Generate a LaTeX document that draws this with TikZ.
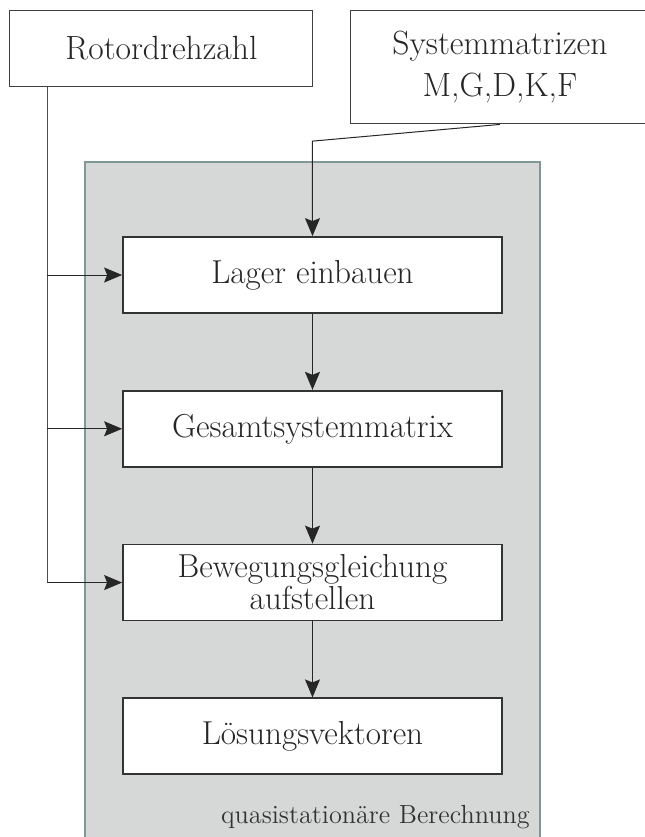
\documentclass[tikz,border=0pt]{standalone}
\usetikzlibrary{positioning,arrows.meta}

\definecolor{rahmengrau}{HTML}{7F9896}
\definecolor{flaechengrau}{HTML}{D6D8D7}

\tikzset{
  schritt/.style={draw=black!80, line width=0.9pt, fill=white, minimum width=6.66cm,
    minimum height=1.336cm, align=center, text=black!85, font=\fontsize{16.6}{15}\selectfont},
  eingabe/.style={draw=black!75, line width=0.5pt, fill=white, align=center,
    text=black!85, font=\fontsize{16.8}{21}\selectfont},
  pfeil/.style={draw=black!85, line width=0.5pt, -{Stealth[length=9pt,width=7.5pt,inset=1.5pt]}},
}

\begin{document}
\begin{tikzpicture}[node distance=1.335cm]
  \useasboundingbox (0,0) rectangle (11.335,-14.71);
  \clip (0,0) rectangle (11.335,-14.71);

  % Bereich der Berechnung
  \draw[rahmengrau, fill=flaechengrau, line width=1pt] (1.494,-2.847) rectangle (9.49,-15.2);
  \node[anchor=base east, font=\fontsize{13.1}{15}\selectfont, text=black!80, inner sep=0pt]
    (bereich) at (9.315,-14.464) {quasistation\"are Berechnung};

  % Eingaben
  \node[eingabe, minimum width=5.325cm, minimum height=1.336cm] (drehzahl) at (2.838,-0.844) {Rotordrehzahl};
  \node[eingabe, minimum width=5.27cm, minimum height=2.0cm] (matrizen) at (8.787,-1.178) {Systemmatrizen\\M,G,D,K,F};

  % Ablauf
  \node[schritt] (lager) at (5.492,-4.833) {Lager einbauen};
  \node[schritt, below=of lager] (gesamt) {Gesamtsystemmatrix};
  \node[schritt, below=of gesamt] (bewegung) {Bewegungsgleichung\\aufstellen};
  \node[schritt, below=of bewegung] (loesung) {L\"osungsvektoren};

  \draw[pfeil] (lager) -- (gesamt);
  \draw[pfeil] (gesamt) -- (bewegung);
  \draw[pfeil] (bewegung) -- (loesung);

  % Systemmatrizen nach unten
  \coordinate (knick) at (lager.north |- 0,-2.48);
  \draw[pfeil] (matrizen.south) -- (knick) -- (lager.north);

  % Drehzahl in jeden Schritt
  \coordinate (abzweig) at ([xshift=0.668cm]drehzahl.south west);
  \draw[black!70, line width=0.5pt] (abzweig) -- (abzweig |- bewegung.west);
  \foreach \ziel in {lager,gesamt,bewegung} {
    \draw[pfeil] (abzweig |- \ziel.west) -- (\ziel.west); % Pfeil zum Schritt
  }
\end{tikzpicture}
\end{document}
